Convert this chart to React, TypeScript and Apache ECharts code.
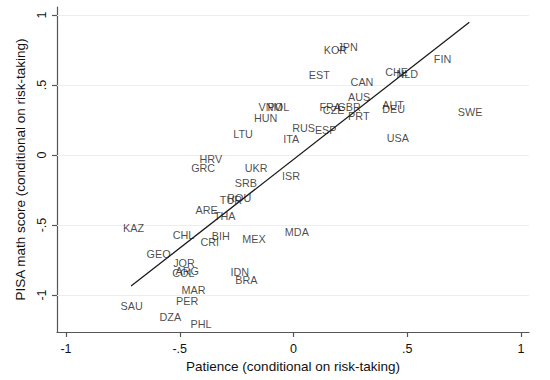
import React, { useEffect, useRef } from "react";
import * as echarts from "echarts";

const codes = ["HRV","GRC","UKR","SRB","LTU","HUN","VNM","POL","KOR","JPN","EST","FIN","CHE","NLD","CAN","AUS","FRA","CZE","GBR","PRT","AUT","DEU","SWE","USA","RUS","ESP","ITA","ISR","ROU","TUR","ARE","THA","KAZ","CHL","BIH","CRI","MEX","MDA","GEO","JOR","ARG","COL","IDN","BRA","MAR","PER","SAU","DZA","PHL"];
const patience = [-0.424,-0.461,-0.225,-0.269,-0.276,-0.185,-0.165,-0.125,0.122,0.182,0.056,0.606,0.392,0.442,0.240,0.229,0.103,0.118,0.182,0.229,0.379,0.379,0.711,0.399,-0.017,0.083,-0.056,-0.061,-0.302,-0.335,-0.442,-0.361,-0.760,-0.542,-0.370,-0.420,-0.236,-0.049,-0.657,-0.540,-0.530,-0.544,-0.288,-0.267,-0.503,-0.527,-0.771,-0.600,-0.464];
const mathScore = [-0.031,-0.091,-0.095,-0.202,0.148,0.264,0.343,0.346,0.752,0.768,0.574,0.686,0.593,0.579,0.524,0.414,0.343,0.319,0.343,0.276,0.355,0.331,0.307,0.121,0.195,0.181,0.112,-0.152,-0.305,-0.321,-0.393,-0.434,-0.519,-0.571,-0.576,-0.619,-0.598,-0.548,-0.707,-0.769,-0.826,-0.845,-0.836,-0.893,-0.962,-1.041,-1.076,-1.157,-1.207];
const fitX = [-0.714, 0.773];
const fitY = [-0.936, 0.948];
const tickValues = [-1, -0.5, 0, 0.5, 1];

const FONT = "'Liberation Sans', Arial, sans-serif";
const fmt = (v: number) => {
  if (v === 0) return "0";
  const s = String(Math.abs(v)).replace(/^0/, "");
  return (v < 0 ? "-" : "") + s;
};

export default function App() {
  const ref = useRef<HTMLDivElement>(null);
  useEffect(() => {
    if (!ref.current) return;
    const chart = echarts.init(ref.current, null, { renderer: "svg" });
    chart.setOption({
      animation: false,
      backgroundColor: "#ffffff",
      grid: { left: 57, right: 21, top: 7, bottom: 48, containLabel: false },
      xAxis: {
        type: "value",
        min: -1.0396,
        max: 1.0352,
        name: "Patience (conditional on risk-taking)",
        nameLocation: "middle",
        nameGap: 23,
        nameTextStyle: { fontFamily: FONT, fontSize: 13.5, color: "#111", verticalAlign: "top" },
        axisLine: { show: true, onZero: false, lineStyle: { color: "#555", width: 1.2 } },
        axisTick: { show: true, length: 5, customValues: tickValues, lineStyle: { color: "#555", width: 1.2 } },
        axisLabel: { customValues: tickValues, formatter: fmt, margin: 10, fontFamily: FONT, fontSize: 12.5, color: "#111" },
        splitLine: { show: false },
      },
      yAxis: {
        type: "value",
        min: -1.264,
        max: 1.057,
        name: "PISA math score (conditional on risk-taking)",
        nameLocation: "middle",
        nameGap: 22,
        nameTextStyle: { fontFamily: FONT, fontSize: 13.5, color: "#111" },
        axisLine: { show: true, onZero: false, lineStyle: { color: "#555", width: 1.2 } },
        axisTick: { show: true, length: 5, customValues: tickValues, lineStyle: { color: "#555", width: 1.2 } },
        axisLabel: { customValues: tickValues, formatter: fmt, rotate: 90, margin: 9, fontFamily: FONT, fontSize: 12.5, color: "#111" },
        splitLine: { show: false },
      },
      series: [
        {
          type: "line",
          data: fitX.map((x, i) => [x, fitY[i]]),
          symbol: "none",
          lineStyle: { color: "#1a1a1a", width: 1.3 },
          z: 3,
          markLine: {
            silent: true,
            symbol: "none",
            label: { show: false },
            lineStyle: { color: "#e6eff1", width: 1, type: "solid" },
            data: tickValues.map((v) => ({ yAxis: v })),
            z: 1,
          },
        },
        {
          type: "scatter",
          data: codes.map((c, i) => [patience[i], mathScore[i], c]),
          symbol: "circle",
          symbolSize: 1,
          itemStyle: { color: "rgba(0,0,0,0)" },
          label: {
            show: true,
            position: "right",
            distance: 2,
            formatter: (p: any) => p.data[2],
            fontFamily: FONT,
            fontSize: 10.8,
            color: "#1a1a1a",
          },
          z: 4,
        },
      ],
    });
    return () => chart.dispose();
  }, []);
  return <div ref={ref} style={{ position: "fixed", left: 0, top: 0, width: 550, height: 380 }} />;
}
